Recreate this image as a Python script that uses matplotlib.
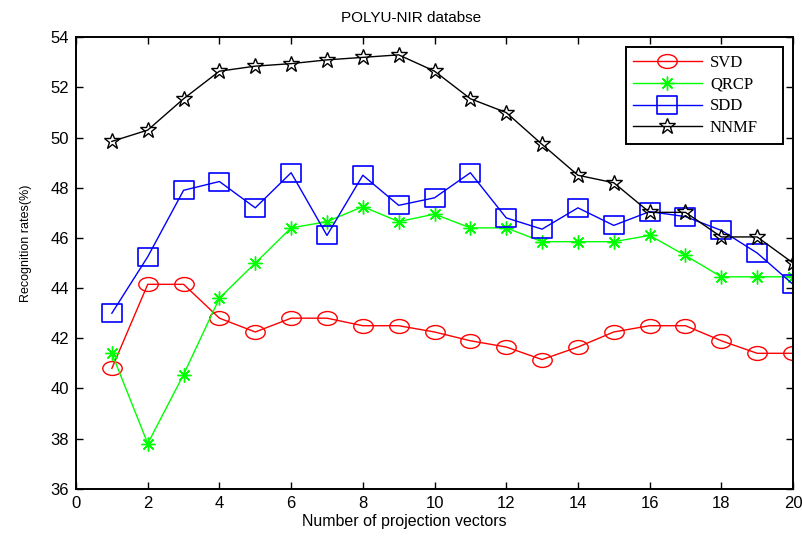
import matplotlib
matplotlib.use("Agg")
import matplotlib.pyplot as plt
from matplotlib.path import Path
from matplotlib.transforms import Affine2D

# -----------------------------
# Data
# -----------------------------
n_vectors = list(range(1, 21))

svd = [40.8, 44.15, 44.15, 42.8, 42.25, 42.8, 42.8, 42.5, 42.5, 42.25,
       41.9, 41.65, 41.15, 41.65, 42.25, 42.5, 42.5, 41.9, 41.4, 41.4]
qrcp = [41.4, 37.8, 40.55, 43.6, 45.0, 46.4, 46.65, 47.25, 46.65, 46.95,
        46.4, 46.4, 45.85, 45.85, 45.85, 46.1, 45.3, 44.45, 44.45, 44.45]
sdd = [43.0, 45.25, 47.9, 48.25, 47.2, 48.6, 46.1, 48.5, 47.3, 47.6,
       48.6, 46.8, 46.35, 47.2, 46.5, 47.05, 46.85, 46.3, 45.4, 44.15]
nnmf = [49.85, 50.3, 51.55, 52.65, 52.85, 52.95, 53.1, 53.2, 53.3, 52.65,
        51.55, 51.0, 49.73, 48.5, 48.2, 47.02, 47.02, 46.04, 46.04, 45.0]

xticks = list(range(0, 21, 2))
yticks = list(range(36, 55, 2))

# -----------------------------
# Markers (the original is stretched sideways)
# -----------------------------
ellipse = Affine2D().scale(1.4, 1.0).transform_path(Path.unit_circle())
wide_square = (Affine2D().translate(-0.5, -0.5).scale(1.2, 1.0)
               .transform_path(Path.unit_rectangle()))

# -----------------------------
# Plot
# -----------------------------
plt.rcParams["font.family"] = ["Liberation Sans", "DejaVu Sans"]

fig = plt.figure(figsize=(8.02, 5.36), dpi=100)
ax = fig.add_axes([0.0948, 0.0882, 0.8940, 0.8422])

lw = 1.0
ax.plot(n_vectors, svd, color="red", lw=lw, marker=ellipse, ms=14,
        mfc="none", mec="red", mew=1.0, label="SVD")
ax.plot(n_vectors, qrcp, color="#00ff00", lw=lw, marker=(8, 2, 0), ms=10,
        mec="#00ff00", mew=1.0, label="QRCP")
ax.plot(n_vectors, sdd, color="blue", lw=lw, marker=wide_square, ms=15,
        mfc="none", mec="blue", mew=1.2, label="SDD")
ax.plot(n_vectors, nnmf, color="black", lw=lw, marker="*", ms=12,
        mfc="none", mec="black", mew=1.0, label="NNMF")

ax.set_xlim(0, 20)
ax.set_ylim(36, 54)
ax.set_xticks(xticks)
ax.set_yticks(yticks)
ax.tick_params(direction="in", top=True, right=True, length=5,
               width=1, labelsize=12, pad=5)
for s in ax.spines.values():
    s.set_linewidth(1.4)

fig.text(411 / 802, 1 - 18 / 536, "POLYU-NIR databse", fontsize=11,
         ha="center", va="center")
ax.set_xlabel("Number of projection vectors", fontsize=11.5)
ax.xaxis.set_label_coords(0.458, -0.055)
ax.set_ylabel("Recognition rates(%)", fontsize=9)
ax.yaxis.set_label_coords(-0.061, 0.544)

leg = ax.legend(loc="upper left", mode="expand", borderaxespad=0,
                bbox_to_anchor=(0.7667, 0.5, 0.2195, 0.4779),
                fancybox=False, framealpha=1, edgecolor="black",
                borderpad=0.45, handlelength=4.1, handletextpad=0.5,
                labelspacing=0.35,
                prop={"family": "Liberation Serif", "size": 12})
leg.get_frame().set_linewidth(1.4)

fig.savefig("out.png", dpi=100)
